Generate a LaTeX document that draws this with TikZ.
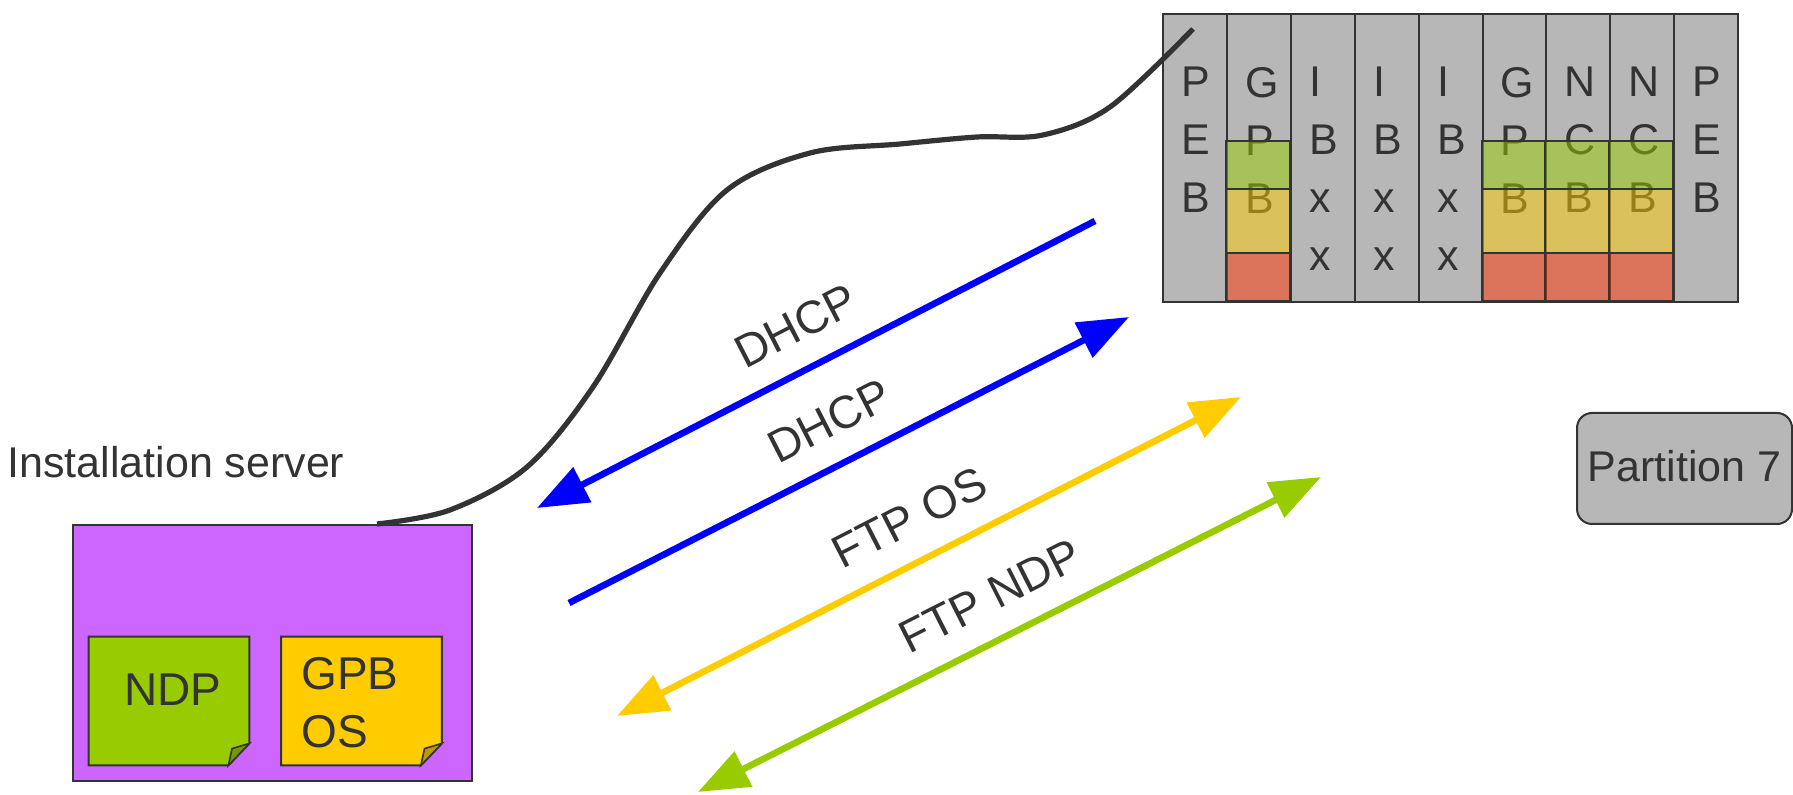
\documentclass[tikz,border=0pt]{standalone}
\usepackage{fontspec}
\setmainfont{Liberation Sans}
\usetikzlibrary{arrows.meta, positioning}

\definecolor{linec}{HTML}{333333}
\definecolor{rackgray}{HTML}{B7B7B7}
\definecolor{srvpurple}{HTML}{CC66FF}
\definecolor{ndpgreen}{HTML}{99CC00}
\definecolor{osyellow}{HTML}{FFCC00}
\definecolor{bootred}{HTML}{FF3300}
\definecolor{netblue}{HTML}{0000FF}

\begin{document}
\begin{tikzpicture}[
    x=0.5pt, y=-0.5pt,
    font=\fontsize{21.5}{29}\selectfont, text=linec,
    >={Triangle[length=25.5pt, width=19pt]},
    slot/.style={draw=linec, fill=rackgray, line width=1pt, inner sep=0pt,
                 minimum width=31.95pt, minimum height=144pt, anchor=north west},
    slottext/.style={align=left, inner sep=0pt, anchor=north west},
    layer/.style={draw=linec, line width=1pt, fill opacity=0.5},
    server/.style={draw=linec, fill=srvpurple, line width=1.2pt,
                   minimum width=199.5pt, minimum height=128pt},
    paper/.style={minimum width=80pt, minimum height=64pt, inner sep=0pt},
    papertext/.style={inner sep=0pt, font=\fontsize{23}{29}\selectfont},
    partbox/.style={draw=linec, fill=rackgray, line width=1pt, rounded corners=7.5pt,
                    minimum width=107.5pt, minimum height=55.5pt},
    flow/.style={line width=3.3pt},
    lbl/.style={sloped, midway, above=12pt, inner sep=0pt, text=linec,
                font=\fontsize{23}{29}\selectfont},
    cable/.style={draw=linec, line width=2.6pt}
  ]
  \useasboundingbox (0,0) rectangle (1793,795);

  % partition rack
  \foreach \t [count=\i] in {{P\\E\\B}, {G\\P\\B}, {I\\B\\x\\x}, {I\\B\\x\\x},
      {I\\B\\x\\x}, {G\\P\\B}, {N\\C\\B}, {N\\C\\B}, {P\\E\\B}} {
    \node[slot] (c\i) at ({1162+(\i-1)*63.9}, 13) {};
    \node[slottext] at ([xshift=9.5pt, yshift=-27pt]c\i.north west) {\t};
  }
  \foreach \i in {2,6,7,8} {
    \draw[layer, fill=ndpgreen] ({1162+(\i-1)*63.9},141) rectangle ({1162+\i*63.9},189);
    \draw[layer, fill=osyellow] ({1162+(\i-1)*63.9},189) rectangle ({1162+\i*63.9},253);
    \draw[layer, fill=bootred] ({1162+(\i-1)*63.9},253) rectangle ({1162+\i*63.9},301);
  }

  % installation server
  \node[server] (server) at (272.5,653) {};
  \node[anchor=base west, inner sep=0pt] (srvname) at (7,478) {Installation server};
  \node[paper] (ndp) at (169,701) {};
  \node[paper] (gpbos) at (361.5,701) {};
  \foreach \n/\c in {ndp/ndpgreen, gpbos/osyellow} {
    \filldraw[draw=linec, fill=\c, line width=1pt] (\n.north west) -- (\n.north east)
      -- ([yshift=11pt]\n.south east) -- ([xshift=-10.5pt]\n.south east)
      -- (\n.south west) -- cycle;
    \filldraw[draw=linec, fill=\c!75!black, line width=0.8pt] ([xshift=-10.5pt]\n.south east)
      -- ([xshift=-8.7pt, yshift=8.4pt]\n.south east) -- ([yshift=11pt]\n.south east) -- cycle;
  }
  \node[papertext] at ([xshift=2pt, yshift=5.5pt]ndp.center) {NDP};
  \node[papertext, align=left, anchor=north west]
    at ([xshift=10pt, yshift=-10pt]gpbos.north west) {GPB\\OS};

  \node[partbox] (part7) at (1684.5,468.5) {\raisebox{2.5pt}{Partition 7}};

  % cable from the server to the rack
  \coordinate (plugA) at (377,524);
  \coordinate (plugB) at (1193,29);
  \draw[cable] plot[smooth, tension=0.55] coordinates {(plugA) (450,510) (527,467)
    (593,387) (660,273) (727,190) (810,153) (900,144) (977,137) (1043,135)
    (1110,107) (plugB)};

  % network flows
  \coordinate (dA1) at (537,508);  \coordinate (dB1) at (1095,221);
  \coordinate (dA2) at (569,603);  \coordinate (dB2) at (1129,317);
  \coordinate (oA) at (617,716);   \coordinate (oB) at (1241,397);
  \coordinate (nA) at (698,792);   \coordinate (nB) at (1321,477);
  \draw[flow, draw=netblue, <-] (dA1) -- node[lbl] {DHCP} (dB1);
  \draw[flow, draw=netblue, ->] (dA2) -- node[lbl] {DHCP} (dB2);
  \draw[flow, draw=osyellow, <->] (oA) -- node[lbl] {FTP OS} (oB);
  \draw[flow, draw=ndpgreen, <->] (nA) -- node[lbl] {FTP NDP} (nB);
\end{tikzpicture}
\end{document}
